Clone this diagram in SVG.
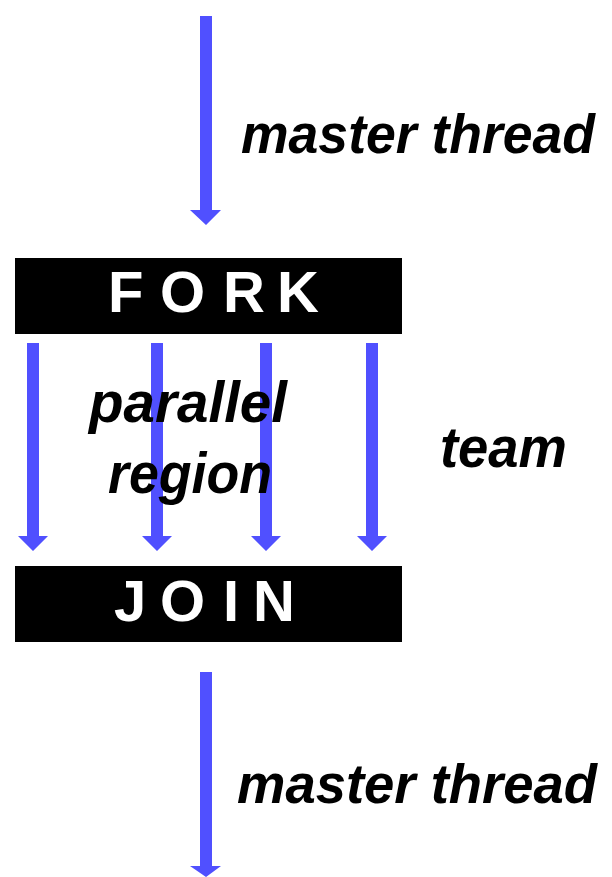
<svg xmlns="http://www.w3.org/2000/svg" width="612" height="877" viewBox="0 0 612 877">
<style>
.box{fill:#000}
.cap{font-family:"Liberation Sans",Arial,sans-serif;font-weight:bold;font-size:58px;fill:#fff}
.lab{font-family:"Liberation Sans",Arial,sans-serif;font-weight:bold;font-style:italic;font-size:58px;fill:#000}
.mt{font-size:55px}
.arr{fill:#5050ff}
</style>
<rect width="612" height="877" fill="#fff"/>
<g id="connectors">
<path class="arr" d="M200 16H212V210H221L206 225L190 210H200Z"/>
<path class="arr" d="M27 343H39V536H48L33 551L18 536H27Z"/>
<path class="arr" d="M151 343H163V536H172L157 551L142 536H151Z"/>
<path class="arr" d="M260 343H272V536H281L266 551L251 536H260Z"/>
<path class="arr" d="M366 343H378V536H387L372 551L357 536H366Z"/>
<path class="arr" d="M200 672H212V866H221L206 877L190 866H200Z"/>
</g>
<g id="fork">
<rect class="box" x="15" y="258" width="387" height="76"/>
<text class="cap" x="108 160 223 277" y="312">FORK</text>
</g>
<g id="join">
<rect class="box" x="15" y="566" width="387" height="76"/>
<text class="cap" x="114 160 223 253" y="621">JOIN</text>
</g>
<g id="master-top">
<text class="lab mt" x="241" y="153" textLength="354" lengthAdjust="spacingAndGlyphs">master thread</text>
</g>
<g id="parallel-region">
<text class="lab" x="89" y="422" textLength="198" lengthAdjust="spacingAndGlyphs">parallel</text>
<text class="lab" x="108" y="493" textLength="164" lengthAdjust="spacingAndGlyphs">region</text>
</g>
<g id="team">
<text class="lab" x="440" y="467" textLength="127" lengthAdjust="spacingAndGlyphs">team</text>
</g>
<g id="master-bottom">
<text class="lab mt" x="237" y="803" textLength="360" lengthAdjust="spacingAndGlyphs">master thread</text>
</g>
</svg>
